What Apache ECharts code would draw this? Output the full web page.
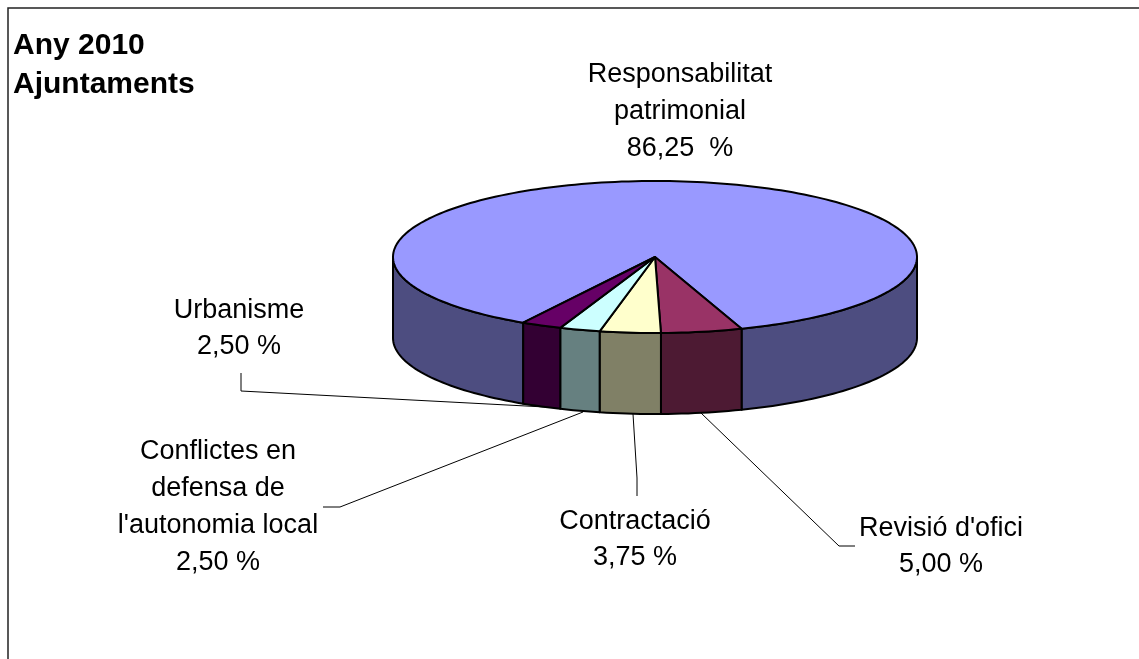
<!DOCTYPE html>
<html><head><meta charset="utf-8">
<style>html,body{margin:0;padding:0;background:#fff}#c{width:1139px;height:659px}</style>
<script src="https://cdn.jsdelivr.net/npm/echarts@6/dist/echarts.min.js"></script>
</head><body><div id="c"></div>
<script>
// Data
const categories = ['Responsabilitat patrimonial', "Revisió d'ofici", 'Contractació', "Conflictes en defensa de l'autonomia local", 'Urbanisme'];
const values = [86.25, 5.00, 3.75, 2.50, 2.50];
const labelTexts = ['Responsabilitat\npatrimonial\n86,25  %', "Revisió d'ofici\n5,00 %", 'Contractació\n3,75 %', "Conflictes en\ndefensa de\nl'autonomia local\n2,50 %", 'Urbanisme\n2,50 %'];
const topColors = ['#9999FF', '#993366', '#FFFFCC', '#CCFFFF', '#660066'];
const wallColors = ['#4D4D80', '#4D1A33', '#808066', '#668080', '#330033'];

// Layout
const labelPos = [[680, 112], [941, 546.5], [635, 539.5], [218, 507], [239, 329]];
const labelLH = [37, 36, 36, 37, 36];
const leaders = [null,
  [[701, 413], [839, 546], [855, 546]],
  [[633, 414], [637, 478], [637, 496]],
  [[583, 412], [340, 507], [323, 507]],
  [[545, 407], [241, 391], [241, 373]]];
const CX = 655, CY = 257, RX = 262, RY = 76, DEPTH = 81;
const FONT = 'Liberation Sans, Arial, sans-serif';
const START = 1.3; // degrees from the front of the pie, where the slices meet

const total = values.reduce((a, b) => a + b, 0);
// Angles: 0 = front (bottom), positive = right side.
function rim(a, dy) {
  const r = a * Math.PI / 180;
  return [CX + RX * Math.sin(r), CY + RY * Math.cos(r) + (dy || 0)];
}
function arc(a0, a1, dy) {
  const n = Math.max(2, Math.ceil(Math.abs(a1 - a0) / 1.5));
  const pts = [];
  for (let i = 0; i <= n; i++) pts.push(rim(a0 + (a1 - a0) * i / n, dy));
  return pts;
}
const spans = (function () {
  const out = [];
  const deg = values.map(v => v / total * 360);
  const a1 = START + deg[1];
  out[1] = [START, a1];
  let cur = START;
  for (let i = 2; i < values.length; i++) { out[i] = [cur - deg[i], cur]; cur -= deg[i]; }
  out[0] = [a1, a1 + deg[0]];
  return out;
})();

function wall(a0, a1, color) {
  const lo = Math.max(a0, -90), hi = Math.min(a1, 90);
  if (lo >= hi) return null;
  return {
    type: 'polygon',
    shape: { points: arc(lo, hi, 0).concat(arc(hi, lo, DEPTH)) },
    style: { fill: color, stroke: '#000', lineWidth: 2, lineJoin: 'round' }
  };
}
function renderItem(params, api) {
  const i = api.value(0);
  const [a0, a1] = spans[i];
  const children = [];
  // big slice wraps past the front: its visible wall is split at the back
  [[a0, a1], [a0 - 360, a1 - 360]].forEach(([p, q]) => {
    const w = wall(p, q, wallColors[i]);
    if (w) children.push(w);
  });
  children.push({
    type: 'polygon',
    shape: { points: [[CX, CY]].concat(arc(a0, a1, 0)) },
    style: { fill: topColors[i], stroke: '#000', lineWidth: 2, lineJoin: 'round' }
  });
  if (leaders[i]) children.push({
    type: 'polyline', shape: { points: leaders[i] },
    style: { fill: null, stroke: '#000', lineWidth: 1 }
  });
  children.push({
    type: 'text',
    style: {
      x: labelPos[i][0], y: labelPos[i][1], text: labelTexts[i],
      font: '27px ' + FONT, fill: '#000', align: 'center', verticalAlign: 'middle', lineHeight: labelLH[i]
    }
  });
  return { type: 'group', children };
}

const chart = echarts.init(document.getElementById('c'), null, { renderer: 'canvas' });
chart.setOption({
  animation: false,
  backgroundColor: '#fff',
  title: {
    text: 'Any 2010\nAjuntaments', left: 8, top: 21,
    textStyle: { fontFamily: FONT, fontSize: 30, fontWeight: 'bold', color: '#000', lineHeight: 39 }
  },
  graphic: [{
    type: 'rect', silent: true,
    shape: { x: 8, y: 8, width: 1200, height: 800 },
    style: { fill: null, stroke: '#222', lineWidth: 1.5 }
  }],
  series: [{
    type: 'custom',
    coordinateSystem: 'none',
    renderItem,
    data: values.map((v, i) => ({ name: categories[i], value: [i, v] }))
  }]
});
</script></body></html>
